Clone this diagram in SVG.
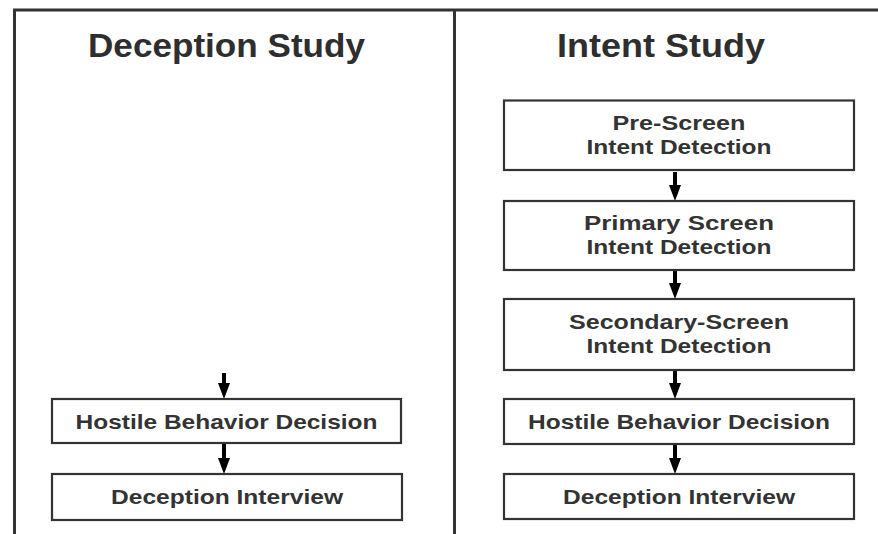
<svg xmlns="http://www.w3.org/2000/svg" width="878" height="534" viewBox="0 0 878 534">
<style>
.frame{stroke:#333;stroke-width:3;fill:none}
.box{fill:#fff;stroke:#333;stroke-width:2.2}
.title{font-family:"Liberation Sans",Arial,sans-serif;font-weight:bold;font-size:34px;fill:#2e2e2e;text-anchor:middle}
.lbl{font-family:"Liberation Sans",Arial,sans-serif;font-weight:bold;font-size:21px;fill:#333;text-anchor:middle}
.conn{stroke:#000;stroke-width:4;fill:none}
</style>
<defs>
<marker id="ah" markerUnits="userSpaceOnUse" markerWidth="16" markerHeight="12" viewBox="0 0 16 12" refX="1" refY="6" orient="auto">
<path d="M0,0 L16,6 L0,12 z" fill="#000"/>
</marker>
</defs>
<rect width="878" height="534" fill="#fff"/>
<g id="frame">
<line class="frame" x1="13" y1="10" x2="878" y2="10"/>
<line class="frame" x1="14.5" y1="9" x2="14.5" y2="534"/>
<line class="frame" x1="454.5" y1="10" x2="454.5" y2="534"/>
</g>
<g id="title-deception"><text class="title" x="226.5" y="57" textLength="277" lengthAdjust="spacingAndGlyphs">Deception Study</text></g>
<g id="title-intent"><text class="title" x="661" y="57" textLength="208" lengthAdjust="spacingAndGlyphs">Intent Study</text></g>
<g id="connectors">
<line class="conn" x1="224" y1="373" x2="224" y2="384" marker-end="url(#ah)"/>
<line class="conn" x1="224" y1="444" x2="224" y2="459" marker-end="url(#ah)"/>
<line class="conn" x1="675" y1="172" x2="675" y2="186" marker-end="url(#ah)"/>
<line class="conn" x1="675" y1="271" x2="675" y2="284" marker-end="url(#ah)"/>
<line class="conn" x1="675" y1="371" x2="675" y2="384" marker-end="url(#ah)"/>
<line class="conn" x1="675" y1="445" x2="675" y2="459" marker-end="url(#ah)"/>
</g>
<g id="d-hostile">
<rect class="box" x="52" y="399" width="349" height="44"/>
<text class="lbl" x="226.5" y="429" textLength="302" lengthAdjust="spacingAndGlyphs">Hostile Behavior Decision</text>
</g>
<g id="d-interview">
<rect class="box" x="52" y="474" width="350" height="46"/>
<text class="lbl" x="227" y="504" textLength="232" lengthAdjust="spacingAndGlyphs">Deception Interview</text>
</g>
<g id="i-prescreen">
<rect class="box" x="504" y="100.5" width="350" height="69.5"/>
<text class="lbl" x="679" y="130" textLength="133" lengthAdjust="spacingAndGlyphs">Pre-Screen</text>
<text class="lbl" x="679" y="154" textLength="185" lengthAdjust="spacingAndGlyphs">Intent Detection</text>
</g>
<g id="i-primary">
<rect class="box" x="504" y="201" width="350" height="69"/>
<text class="lbl" x="679" y="230" textLength="190" lengthAdjust="spacingAndGlyphs">Primary Screen</text>
<text class="lbl" x="679" y="254" textLength="185" lengthAdjust="spacingAndGlyphs">Intent Detection</text>
</g>
<g id="i-secondary">
<rect class="box" x="504" y="299" width="350" height="71"/>
<text class="lbl" x="679" y="329" textLength="220" lengthAdjust="spacingAndGlyphs">Secondary-Screen</text>
<text class="lbl" x="679" y="353" textLength="185" lengthAdjust="spacingAndGlyphs">Intent Detection</text>
</g>
<g id="i-hostile">
<rect class="box" x="504" y="399" width="350" height="45"/>
<text class="lbl" x="679" y="429" textLength="302" lengthAdjust="spacingAndGlyphs">Hostile Behavior Decision</text>
</g>
<g id="i-interview">
<rect class="box" x="504" y="474" width="350" height="45"/>
<text class="lbl" x="679" y="504" textLength="232" lengthAdjust="spacingAndGlyphs">Deception Interview</text>
</g>
</svg>
